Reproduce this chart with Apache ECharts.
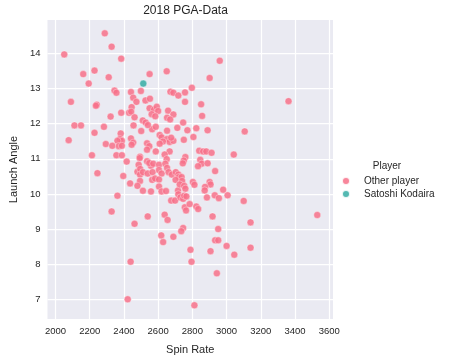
<!DOCTYPE html>
<html>
<head>
<meta charset="utf-8">
<script src="https://cdn.jsdelivr.net/npm/echarts@6/dist/echarts.min.js"></script>
<style>html,body{margin:0;padding:0;background:#fff;}#c{width:454px;height:360px;}</style>
</head>
<body>
<div id="c"></div>
<script>
// Spin Rate (x) and Launch Angle (y) for "Other player"
var otherSpin = [2288,2328,2051,2384,2960,2228,2650,2162,2550,2311,2901,2194,2797,
2345,2356,2441,2499,2454,2473,2526,2552,2090,2241,2236,2672,2689,2718,2757,2757,2851,3362,
2445,2550,2576,2592,2600,2562,2583,2658,2689,2652,2670,2430,2442,2384,2322,2462,2510,2527,2746,2857,
2111,2149,2283,2456,2501,2565,2586,2540,2652,2712,2771,2823,2889,2806,3106,2228,2381,2609,2620,2077,2377,2388,2362,2441,2652,2667,2689,2676,2628,2750,
2454,2445,2535,2548,2609,2294,2332,2370,2388,2535,2586,2667,2840,2863,2881,2912,3042,2213,2356,2388,2494,2638,2759,2492,2650,
2416,2535,2486,2558,2548,2571,2605,2642,2652,2750,2744,2846,2854,2889,2833,2933,2245,2396,2479,2495,2494,2511,2539,2567,2605,2620,2661,2680,2703,2718,2721,2737,
2494,2565,2582,2605,2436,2479,2511,2558,2605,2620,2646,2716,2702,2740,2803,2812,2726,2752,2759,2901,2906,2874,2872,2980,2718,
2362,2328,2676,2699,2730,2746,2752,2765,3006,2931,2955,2885,3100,2756,2763,2784,2823,2834,
2539,2638,2655,2462,2918,3140,3530,2746,2735,2951,
2618,2629,2689,2933,2951,3000,3140,2789,2906,3045,2439,2795,2943,2422,2812];
var otherAngle = [14.57,14.19,13.97,13.85,13.79,13.51,13.49,13.41,13.41,13.32,13.30,13.14,13.02,
12.94,12.88,12.90,12.93,12.74,12.62,12.66,12.71,12.62,12.54,12.51,12.91,12.88,12.80,12.89,12.62,12.55,12.64,
12.47,12.44,12.40,12.48,12.36,12.27,12.21,12.37,12.26,12.17,12.12,12.31,12.34,12.31,12.20,12.18,12.09,12.03,12.03,12.22,
11.95,11.95,11.91,11.95,11.79,11.84,11.91,11.96,11.80,11.88,11.81,11.87,11.81,11.62,11.78,11.74,11.72,11.68,11.61,11.53,11.56,11.51,11.51,11.58,11.56,11.48,11.51,11.60,11.49,11.54,
11.46,11.40,11.44,11.36,11.43,11.42,11.37,11.36,11.37,11.26,11.21,11.21,11.23,11.21,11.21,11.17,11.12,11.10,11.10,11.10,11.06,11.12,11.05,11.02,10.99,
10.92,10.93,10.83,10.80,10.88,10.86,10.83,10.86,10.74,10.95,10.87,10.97,10.86,10.87,10.79,10.65,10.59,10.51,10.63,10.71,10.55,10.62,10.58,10.62,10.68,10.58,10.62,10.55,10.62,10.55,10.48,10.48,
10.37,10.40,10.44,10.41,10.30,10.23,10.09,10.07,10.21,10.07,10.08,10.10,10.40,10.37,10.34,10.26,10.27,10.23,10.15,10.34,10.27,10.20,10.10,10.12,9.99,
9.95,9.50,9.81,9.81,9.90,9.86,9.95,9.93,9.96,9.96,9.88,9.90,9.80,9.62,9.53,9.71,9.64,9.57,
9.36,9.41,9.26,9.15,9.36,9.19,9.40,9.03,8.94,9.00,
8.82,8.63,8.78,8.68,8.68,8.52,8.47,8.41,8.37,8.27,8.07,8.07,7.74,7.00,6.83];
// Satoshi Kodaira
var kodairaSpin = [2513];
var kodairaAngle = [13.14];

var xTicks = [2000,2200,2400,2600,2800,3000,3200,3400,3600];
var yTicks = [7,8,9,10,11,12,13,14];
var seriesNames = ['Other player','Satoshi Kodaira'];

function pairs(xs, ys){ var out=[]; for (var i=0;i<xs.length;i++) out.push([xs[i], ys[i]]); return out; }

var FONT = '"Liberation Sans", Arial, sans-serif';
var TXT = '#262626';
var chart = echarts.init(document.getElementById('c'), null, {renderer:'canvas'});
chart.setOption({
  animation: false,
  backgroundColor: '#ffffff',
  grid: {left: 38, right: 121, top: 20, bottom: 37, show: true, backgroundColor: '#EAEAF2', borderWidth: 0},
  graphic: [
    {type:'text', x:185.5, y:11, style:{text:'2018 PGA-Data', font:'12px ' + FONT, fill:TXT, align:'center', verticalAlign:'middle'}},
    {type:'text', x:387, y:166, style:{text:'Player', font:'10px ' + FONT, fill:TXT, align:'center', verticalAlign:'middle'}}
  ],
  legend: {
    orient: 'vertical', left: 336, top: 170, itemWidth: 26, itemHeight: 8, itemGap: 1,
    icon: 'circle',
    textStyle: {fontFamily: FONT, fontSize: 10, color: TXT, lineHeight: 12},
    data: seriesNames
  },
  xAxis: {
    type: 'value', min: 1953, max: 3622,
    name: 'Spin Rate', nameLocation: 'middle', nameGap: 25,
    nameTextStyle: {fontFamily: FONT, fontSize: 11, color: TXT},
    axisLine: {show: false}, 
    axisTick: {show: false, customValues: xTicks},
    axisLabel: {customValues: xTicks, fontFamily: FONT, fontSize: 9.5, color: TXT, margin: 7,
                formatter: function(v){ return String(v); }},
    splitLine: {show: true, lineStyle: {color: '#ffffff', width: 1.25}}
  },
  yAxis: {
    type: 'value', min: 6.44, max: 14.95,
    name: 'Launch Angle', nameLocation: 'middle', nameGap: 28,
    nameTextStyle: {fontFamily: FONT, fontSize: 11, color: TXT},
    axisLine: {show: false},
    axisTick: {show: false, customValues: yTicks},
    axisLabel: {customValues: yTicks, fontFamily: FONT, fontSize: 9.5, color: TXT, margin: 7,
                formatter: function(v){ return String(v); }},
    splitLine: {show: true, lineStyle: {color: '#ffffff', width: 1.25}}
  },
  series: [
    {name: seriesNames[0], type: 'scatter', symbolSize: 7, data: pairs(otherSpin, otherAngle),
     itemStyle: {color: '#f77189', opacity: 0.85, borderColor: '#ffffff', borderWidth: 0.4}},
    {name: seriesNames[1], type: 'scatter', symbolSize: 7, data: pairs(kodairaSpin, kodairaAngle),
     itemStyle: {color: '#36ada4', opacity: 0.85, borderColor: '#ffffff', borderWidth: 0.4}}
  ]
});
</script>
</body>
</html>
